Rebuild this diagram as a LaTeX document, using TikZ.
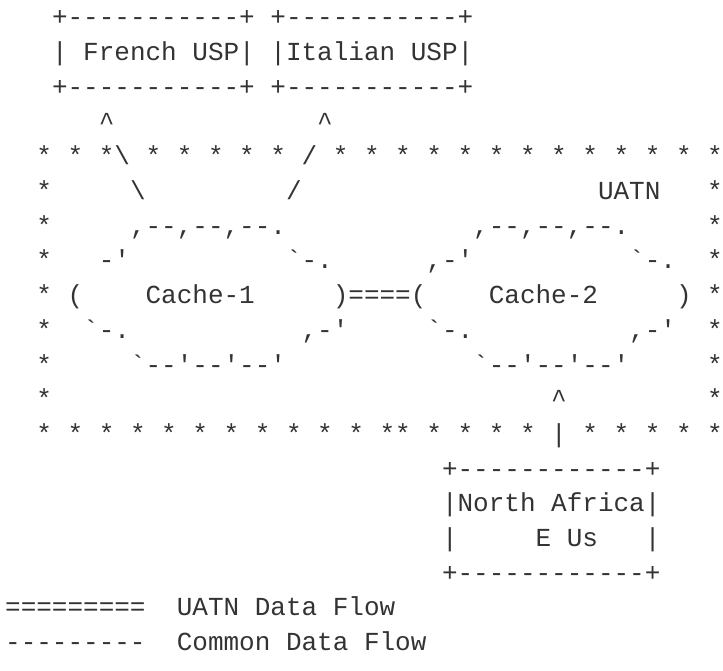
\documentclass[tikz,border=0pt]{standalone}
\usepackage{fontspec}
\setmonofont{Liberation Mono}
\begin{document}
\begin{tikzpicture}[x=15.6pt, y=-34.7pt]
	\tikzstyle{ch}=[inner sep=0pt, anchor=base west, text=black!80, font=\ttfamily\fontsize{26pt}{26pt}\selectfont]
	\useasboundingbox (-5pt, -8.7pt) rectangle (718pt, -679.7pt);
	% USP boxes
	\node at (3, 1) [ch] (french_top) {+-----------+};
	\node at (3, 2) [ch] (french) {| French USP|};
	\node at (3, 3) [ch] (french_bot) {+-----------+};
	\node at (17, 1) [ch] (italian_top) {+-----------+};
	\node at (17, 2) [ch] (italian) {|Italian USP|};
	\node at (17, 3) [ch] (italian_bot) {+-----------+};
	% Cache-1 -> French USP, Cache-2 -> Italian USP
	\node at (6, 4) [ch] (french_tip) {\textasciicircum};
	\node at (7, 5) [ch] (french_a) {\textbackslash};
	\node at (8, 6) [ch] (french_b) {\textbackslash};
	\node at (20, 4) [ch] (italian_tip) {\textasciicircum};
	\node at (19, 5) [ch] (italian_a) {/};
	\node at (18, 6) [ch] (italian_b) {/};
	%---------------------%
	% UATN border, top
	\foreach \x in {2,4,6}
		\node at (\x, 5) [ch] (top_\x) {*};
	\foreach \x in {9,11,...,17}
		\node at (\x, 5) [ch] (top_\x) {*};
	\foreach \x in {21,23,...,45}
		\node at (\x, 5) [ch] (top_\x) {*};
	% UATN border, sides
	\foreach \y in {6,...,12} {
		\node at (2, \y) [ch] (left_\y) {*};
		\node at (45, \y) [ch] (right_\y) {*};
	}
	% UATN border, bottom
	\foreach \x in {2,4,...,24}
		\node at (\x, 13) [ch] (bottom_\x) {*};
	\foreach \x in {25,27,...,33}
		\node at (\x, 13) [ch] (bottom_\x) {*};
	\foreach \x in {37,39,...,45}
		\node at (\x, 13) [ch] (bottom_\x) {*};
	\node at (38, 6) [ch] (uatn) {UATN};
	%---------------------%
	% Cache-1
	\node at (8, 7) [ch] (cache1_n) {,--,--,--.};
	\node at (6, 8) [ch] (cache1_nw) {-'};
	\node at (18, 8) [ch] (cache1_ne) {`-.};
	\node at (4, 9) [ch] (cache1_w) {(};
	\node at (9, 9) [ch] (cache1) {Cache-1};
	\node at (21, 9) [ch] (cache1_e) {)};
	\node at (5, 10) [ch] (cache1_sw) {`-.};
	\node at (19, 10) [ch] (cache1_se) {,-'};
	\node at (8, 11) [ch] (cache1_s) {`--'--'--'};
	% Cache-1 <-> Cache-2
	\node at (22, 9) [ch] (uatn_link) {====};
	% Cache-2
	\node at (30, 7) [ch] (cache2_n) {,--,--,--.};
	\node at (27, 8) [ch] (cache2_nw) {,-'};
	\node at (40, 8) [ch] (cache2_ne) {`-.};
	\node at (26, 9) [ch] (cache2_w) {(};
	\node at (31, 9) [ch] (cache2) {Cache-2};
	\node at (43, 9) [ch] (cache2_e) {)};
	\node at (27, 10) [ch] (cache2_sw) {`-.};
	\node at (40, 10) [ch] (cache2_se) {,-'};
	\node at (30, 11) [ch] (cache2_s) {`--'--'--'};
	%---------------------%
	% North Africa -> Cache-2
	\node at (35, 12) [ch] (africa_tip) {\textasciicircum};
	\node at (35, 13) [ch] (africa_a) {|};
	\node at (28, 14) [ch] (africa_top) {+------------+};
	\node at (28, 15) [ch] (africa) {|North Africa|};
	\node at (28, 16) [ch] (africa_l) {|};
	\node at (34, 16) [ch] (africa_eus) {E Us};
	\node at (41, 16) [ch] (africa_r) {|};
	\node at (28, 17) [ch] (africa_bot) {+------------+};
	% Legend
	\node at (0, 18) [ch] (key_uatn) {=========};
	\node at (11, 18) [ch] (key_uatn_txt) {UATN Data Flow};
	\node at (0, 19) [ch] (key_common) {---------};
	\node at (11, 19) [ch] (key_common_txt) {Common Data Flow};
\end{tikzpicture}
\end{document}
